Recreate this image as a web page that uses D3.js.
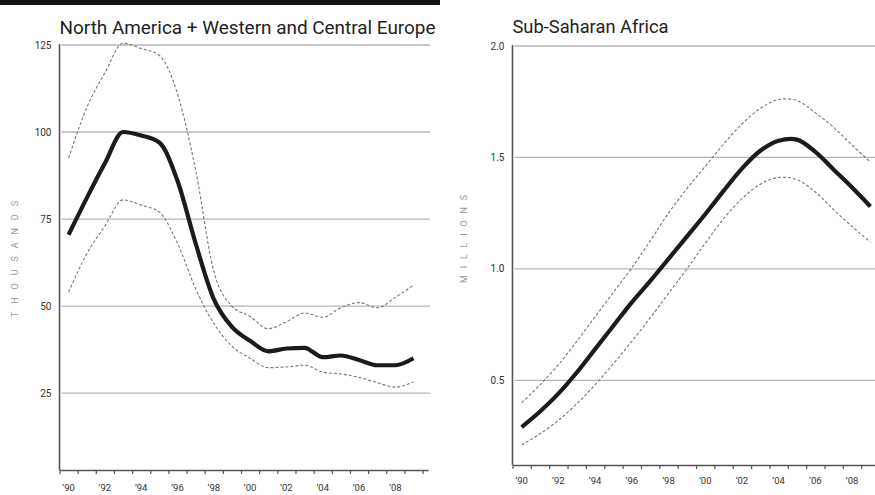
<!DOCTYPE html>
<html><head><meta charset="utf-8">
<script src="https://cdn.jsdelivr.net/npm/d3@7"></script>
<style>
body{margin:0;background:#fff;}
svg{display:block;}
text{font-family:"Liberation Sans Narrow","Roboto","Liberation Sans",sans-serif;}
</style></head><body>
<svg id="c" width="875" height="495"></svg>
<script>
const years = d3.range(1990, 2010);
const tickLabelYears = [1990,1992,1994,1996,1998,2000,2002,2004,2006,2008];

// North America + Western and Central Europe (thousands)
const naMain  = [70.5,81,91,100,99,97,86,68,52,44,40,37,37.8,38,35.3,35.8,34.5,33,33,35];
const naUpper = [92.5,107,117,125.5,124,122,111,89,60,50,47,43.5,45.5,48,46.8,49.5,51,49.5,52.5,56];
const naLower = [54,65,73,80.5,79,77,68,55,45,38.5,35,32.3,32.5,33,31,30.5,29.5,28,26.7,28.2];
const naTicks = [25,50,75,100,125];

// Sub-Saharan Africa (millions)
const ssaMain  = [0.29,0.36,0.44,0.535,0.64,0.745,0.85,0.945,1.045,1.145,1.245,1.35,1.45,1.53,1.575,1.58,1.525,1.445,1.365,1.28];
const ssaUpper = [0.40,0.48,0.57,0.675,0.785,0.895,1.005,1.125,1.25,1.36,1.46,1.56,1.65,1.72,1.76,1.755,1.70,1.635,1.555,1.48];
const ssaLower = [0.21,0.26,0.32,0.395,0.48,0.575,0.675,0.78,0.89,1.00,1.115,1.225,1.315,1.38,1.41,1.40,1.345,1.265,1.19,1.12];
const ssaTicks = [0.5,1.0,1.5,2.0];

const svg = d3.select("#c");

// top black bar
svg.append("rect").attr("x",0).attr("y",0).attr("width",440).attr("height",5).attr("fill","#111");

function panel(o){
  const g = svg.append("g");
  const x = d3.scaleLinear().domain(o.xdom).range(o.xr);
  const y = d3.scaleLinear().domain(o.ydom).range(o.yr);
  // grid
  g.selectAll(".grid").data(o.ticks).join("line")
    .attr("x1",o.xr[0]+2).attr("x2",o.gridEnd)
    .attr("y1",d=>y(d)).attr("y2",d=>y(d))
    .attr("stroke","#b5b5b5").attr("stroke-width",1.3);
  // y tick labels
  g.selectAll(".yl").data(o.ticks).join("text")
    .attr("x",o.xr[0]-8).attr("y",d=>y(d)+3.5)
    .attr("text-anchor","end").attr("font-size",10).attr("fill","#333")
    .text(o.yfmt);
  // y axis line
  g.append("line").attr("x1",o.xr[0]).attr("x2",o.xr[0])
    .attr("y1",y(o.ticks[o.ticks.length-1])-1).attr("y2",o.yr[0])
    .attr("stroke","#555").attr("stroke-width",1.6);
  // x axis: ticks at year boundaries
  const bounds = d3.range(o.xdom[0], o.xdom[1]+0.001, 1);
  const xa = d3.axisBottom(x).tickValues(bounds).tickFormat("").tickSize(4).tickSizeOuter(0);
  const ag = g.append("g").attr("transform",`translate(0,${o.yr[0]})`).call(xa);
  ag.select(".domain").attr("stroke","#555").attr("stroke-width",1.6);
  ag.selectAll(".tick line").attr("stroke","#555").attr("stroke-width",1.2);
  // x labels at year centres
  g.selectAll(".xl").data(tickLabelYears).join("text")
    .attr("x",d=>x(d)).attr("y",o.yr[0]+o.labelDy)
    .attr("text-anchor","middle").attr("font-size",9.5).attr("fill","#333")
    .text(d=>"\u2019"+String(d).slice(2));
  // title
  g.append("text").attr("x",o.xr[0]).attr("y",o.titleY)
    .attr("font-size",18).attr("fill","#222")
    .attr("textLength",o.titleLen).attr("lengthAdjust","spacingAndGlyphs")
    .text(o.title);
  // y axis title
  g.append("text").attr("transform",`translate(${o.ytx},${o.yty}) rotate(-90)`)
    .attr("text-anchor","middle").attr("font-size",9).attr("fill","#999")
    .attr("textLength",o.ytLen).attr("lengthAdjust","spacing")
    .text(o.ytitle);
  // lines
  const line = d3.line().x((d,i)=>x(years[i])).y(d=>y(d)).curve(o.curve);
  [o.upper,o.lower].forEach(s=>{
    g.append("path").attr("d",line(s)).attr("fill","none")
      .attr("stroke","#777").attr("stroke-width",1.1).attr("stroke-dasharray","3,2");
  });
  g.append("path").attr("d",line(o.main)).attr("fill","none")
    .attr("stroke","#1b1b1b").attr("stroke-width",4.2)
    .attr("stroke-linejoin","round").attr("stroke-linecap","butt");
}

panel({
  xdom:[1989.5,2009.8], xr:[59.5,428],
  ydom:[2.9,125], yr:[470,45],
  ticks:naTicks, yfmt:d=>d, gridEnd:430,
  labelDy:21, titleY:34, titleLen:376,
  title:"North America + Western and Central Europe",
  ytitle:"THOUSANDS", ytx:18, yty:259, ytLen:116,
  main:naMain, upper:naUpper, lower:naLower,
  curve:d3.curveMonotoneX
});

panel({
  xdom:[1989.5,2009.25], xr:[512.5,875],
  ydom:[0.12,2.0], yr:[465,46],
  ticks:ssaTicks, yfmt:d=>d.toFixed(1), gridEnd:875,
  labelDy:19, titleY:33, titleLen:156,
  title:"Sub-Saharan Africa",
  ytitle:"MILLIONS", ytx:467, yty:239, ytLen:88,
  main:ssaMain, upper:ssaUpper, lower:ssaLower,
  curve:d3.curveCatmullRom
});
</script>
</body></html>
